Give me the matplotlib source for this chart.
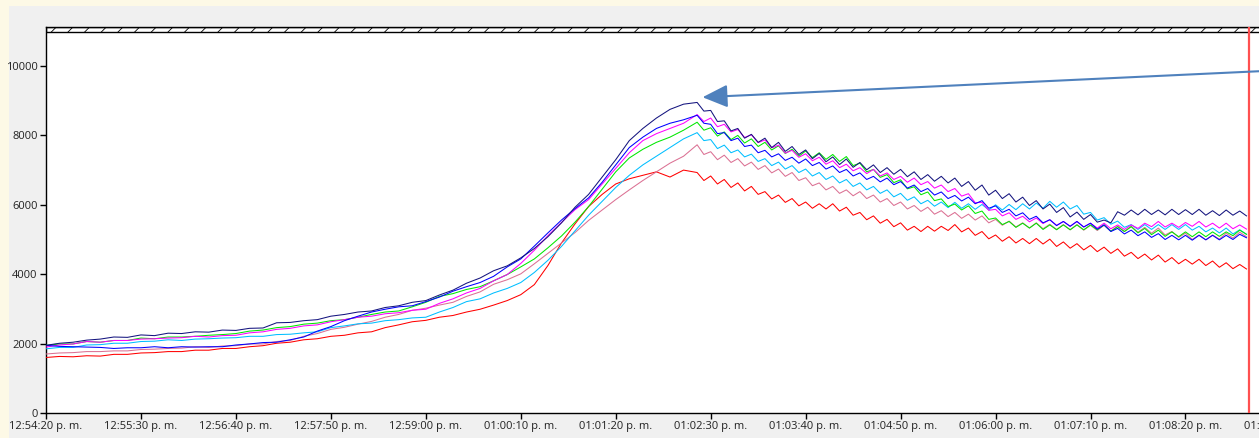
import numpy as np
import matplotlib
matplotlib.use("Agg")
import matplotlib.pyplot as plt
from matplotlib.patches import Rectangle

# ---------------- data ----------------
# sample times (s after 12:54:20): 10 s steps during the rise, 5 s steps afterwards
times = list(range(0, 480, 10)) + list(range(480, 890, 5))
tick_seconds = [0, 70, 140, 210, 280, 350, 420, 490, 560, 630, 700, 770, 840, 910]
tick_labels = ["12:54:20 p. m.", "12:55:30 p. m.", "12:56:40 p. m.", "12:57:50 p. m.",
               "12:59:00 p. m.", "01:00:10 p. m.", "01:01:20 p. m.", "01:02:30 p. m.",
               "01:03:40 p. m.", "01:04:50 p. m.", "01:06:00 p. m.", "01:07:10 p. m.",
               "01:08:20 p. m.", "01:09:30 p. m."]
y_ticks = [0, 2000, 4000, 6000, 8000, 10000]

navy = [1950, 2010, 2040, 2100, 2130, 2190, 2180, 2250, 2230, 2300,
        2290, 2340, 2330, 2390, 2380, 2440, 2450, 2600, 2610, 2660,
        2690, 2790, 2840, 2910, 2940, 3040, 3090, 3190, 3240, 3400,
        3540, 3740, 3890, 4100, 4240, 4470, 4740, 5080, 5480, 5930,
        6300, 6800, 7300, 7850, 8200, 8500, 8750, 8900,
        8950, 8700, 8720, 8400, 8420, 8130, 8200, 7920, 8030, 7800,
        7920, 7650, 7800, 7540, 7680, 7450, 7580, 7330, 7480, 7240,
        7380, 7160, 7320, 7080, 7220, 7010, 7150, 6930, 7070, 6880,
        7020, 6810, 6950, 6730, 6870, 6680, 6820, 6630, 6770, 6530,
        6670, 6420, 6570, 6280, 6420, 6180, 6320, 6080, 6220, 5980,
        6120, 5880, 6020, 5780, 5920, 5650, 5790, 5580, 5720, 5500,
        5560, 5480, 5800, 5700, 5850, 5710, 5870, 5720, 5850, 5710,
        5870, 5720, 5860, 5720, 5870, 5700, 5830, 5690, 5850, 5700,
        5820, 5680]
blue = [1950, 1920, 1910, 1900, 1890, 1860, 1880, 1880, 1910, 1880,
        1910, 1900, 1910, 1910, 1960, 1990, 2030, 2040, 2110, 2190,
        2360, 2490, 2660, 2790, 2910, 2990, 3060, 3090, 3210, 3340,
        3510, 3640, 3760, 3940, 4210, 4440, 4810, 5190, 5560, 5890,
        6200, 6650, 7150, 7650, 7950, 8200, 8350, 8450,
        8580, 8350, 8320, 8050, 8080, 7850, 7920, 7680, 7720, 7500,
        7570, 7380, 7470, 7280, 7370, 7200, 7320, 7130, 7220, 7030,
        7120, 6930, 7020, 6830, 6920, 6730, 6820, 6660, 6770, 6580,
        6670, 6480, 6570, 6380, 6470, 6280, 6370, 6180, 6270, 6110,
        6220, 6030, 6120, 5900, 5970, 5780, 5870, 5680, 5770, 5580,
        5670, 5480, 5570, 5400, 5520, 5380, 5520, 5360, 5470, 5300,
        5420, 5230, 5320, 5160, 5270, 5110, 5220, 5060, 5170, 5000,
        5120, 4990, 5120, 4980, 5120, 4990, 5120, 4990, 5120, 5000,
        5150, 5050]
magenta = [1900, 1960, 1990, 2060, 2040, 2090, 2090, 2130, 2140, 2160,
           2170, 2210, 2190, 2230, 2240, 2310, 2340, 2410, 2440, 2510,
           2540, 2630, 2690, 2760, 2790, 2860, 2890, 2960, 2990, 3160,
           3290, 3460, 3590, 3810, 3990, 4310, 4690, 5110, 5490, 5860,
           6150, 6600, 7050, 7500, 7850, 8050, 8200, 8350,
           8600, 8400, 8500, 8250, 8320, 8100, 8170, 7940, 8020, 7790,
           7870, 7640, 7720, 7490, 7570, 7370, 7470, 7270, 7370, 7170,
           7270, 7070, 7170, 6980, 7070, 6900, 7020, 6830, 6920, 6730,
           6820, 6650, 6770, 6580, 6670, 6480, 6570, 6380, 6470, 6250,
           6320, 6060, 6070, 5840, 5870, 5680, 5770, 5580, 5670, 5510,
           5620, 5460, 5570, 5410, 5520, 5380, 5520, 5360, 5470, 5330,
           5470, 5310, 5420, 5290, 5420, 5320, 5470, 5370, 5520, 5360,
           5470, 5350, 5490, 5380, 5520, 5360, 5470, 5330, 5470, 5310,
           5420, 5300]
green = [1950, 1990, 1990, 2060, 2040, 2090, 2090, 2160, 2140, 2190,
         2190, 2210, 2240, 2260, 2290, 2360, 2390, 2460, 2490, 2560,
         2590, 2660, 2690, 2760, 2840, 2910, 2940, 3060, 3190, 3360,
         3440, 3560, 3640, 3810, 3990, 4210, 4440, 4760, 5100, 5500,
         5950, 6450, 6950, 7350, 7600, 7800, 7950, 8150,
         8380, 8150, 8220, 7980, 8100, 7880, 8000, 7780, 7900, 7680,
         7800, 7580, 7700, 7480, 7600, 7400, 7550, 7360, 7500, 7310,
         7450, 7250, 7390, 7130, 7200, 6950, 7020, 6790, 6870, 6640,
         6720, 6460, 6520, 6290, 6370, 6120, 6170, 5950, 6020, 5850,
         5970, 5750, 5820, 5580, 5620, 5430, 5520, 5350, 5470, 5330,
         5470, 5290, 5420, 5280, 5420, 5280, 5420, 5280, 5420, 5280,
         5420, 5240, 5370, 5230, 5370, 5190, 5320, 5140, 5270, 5090,
         5220, 5080, 5220, 5080, 5220, 5080, 5220, 5090, 5220, 5110,
         5270, 5150]
cyan = [1850, 1890, 1890, 1960, 1970, 2010, 2010, 2060, 2070, 2110,
        2090, 2130, 2140, 2160, 2170, 2210, 2210, 2260, 2270, 2310,
        2340, 2460, 2510, 2570, 2590, 2660, 2690, 2740, 2760, 2910,
        3040, 3210, 3290, 3460, 3590, 3760, 4050, 4400, 4800, 5250,
        5700, 6100, 6500, 6850, 7150, 7400, 7650, 7900,
        8080, 7850, 7880, 7620, 7720, 7500, 7580, 7380, 7460, 7250,
        7330, 7130, 7230, 7030, 7130, 6930, 7030, 6830, 6930, 6730,
        6830, 6630, 6730, 6530, 6630, 6430, 6530, 6330, 6430, 6230,
        6330, 6130, 6230, 6030, 6130, 5960, 6080, 5920, 6070, 5900,
        6030, 5870, 6010, 5850, 6000, 5850, 6010, 5860, 6030, 5880,
        6050, 5900, 6100, 5930, 6080, 5880, 5980, 5730, 5780, 5560,
        5630, 5440, 5530, 5350, 5430, 5290, 5430, 5290, 5430, 5290,
        5430, 5290, 5430, 5270, 5380, 5220, 5330, 5190, 5330, 5160,
        5280, 5150]
pink = [1700, 1730, 1740, 1770, 1770, 1790, 1790, 1830, 1840, 1860,
        1870, 1910, 1890, 1930, 1940, 1990, 1990, 2060, 2090, 2210,
        2290, 2410, 2470, 2560, 2640, 2760, 2840, 2960, 3020, 3110,
        3190, 3360, 3490, 3710, 3840, 4010, 4300, 4600, 4900, 5200,
        5550, 5850, 6150, 6430, 6700, 6950, 7200, 7400,
        7730, 7450, 7530, 7300, 7430, 7220, 7330, 7120, 7230, 7020,
        7130, 6920, 7030, 6820, 6930, 6700, 6780, 6550, 6630, 6430,
        6530, 6330, 6430, 6260, 6380, 6180, 6280, 6080, 6180, 5980,
        6080, 5880, 5980, 5810, 5930, 5730, 5830, 5660, 5780, 5610,
        5730, 5560, 5680, 5480, 5580, 5410, 5530, 5360, 5480, 5330,
        5480, 5310, 5440, 5290, 5430, 5280, 5430, 5270, 5410, 5260,
        5410, 5240, 5380, 5230, 5380, 5210, 5350, 5180, 5330, 5130,
        5230, 5060, 5180, 5000, 5130, 4990, 5130, 5010, 5180, 5040,
        5210, 5080]
red = [1600, 1630, 1620, 1650, 1640, 1690, 1690, 1730, 1740, 1770,
       1770, 1810, 1810, 1860, 1860, 1910, 1940, 2010, 2040, 2110,
       2140, 2210, 2240, 2310, 2340, 2460, 2540, 2630, 2670, 2760,
       2810, 2910, 2990, 3110, 3240, 3410, 3700, 4250, 4900, 5450,
       5950, 6300, 6600, 6750, 6850, 6950, 6800, 7000,
       6930, 6700, 6830, 6600, 6730, 6500, 6630, 6400, 6530, 6300,
       6380, 6170, 6280, 6070, 6180, 5970, 6080, 5900, 6030, 5880,
       6030, 5820, 5930, 5700, 5780, 5570, 5680, 5470, 5580, 5370,
       5480, 5270, 5380, 5230, 5380, 5240, 5380, 5260, 5430, 5220,
       5330, 5120, 5230, 5020, 5130, 4950, 5080, 4900, 5030, 4880,
       5030, 4870, 5010, 4800, 4930, 4750, 4880, 4700, 4830, 4650,
       4780, 4600, 4730, 4520, 4630, 4450, 4580, 4410, 4550, 4350,
       4480, 4300, 4430, 4290, 4430, 4250, 4380, 4200, 4330, 4160,
       4280, 4150]

series = [
    (red, "#FF0000"),
    (pink, "#DB7093"),
    (cyan, "#00BFFF"),
    (green, "#00E800"),
    (magenta, "#FF00FF"),
    (blue, "#0000FF"),
    (navy, "#14147F"),
]

marker_time = 887          # red cursor line (s)
arrow_tip = (484, 9100)    # arrow head position (s, value)

# ---------------- figure ----------------
W, H = 1259, 438
fig = plt.figure(figsize=(W / 100, H / 100), dpi=100, facecolor="#FDF9E6")
panel = Rectangle((9 / W, 0), 1, (H - 6) / H, transform=fig.transFigure,
                  facecolor="#F0F0F0", edgecolor="none", zorder=-10)
fig.add_artist(panel)

px_per_s = 1.3565
x_right_px = 46 + 920 * px_per_s
ax = fig.add_axes([46 / W, 25 / H, (x_right_px - 46) / W, (413 - 27) / H])
ax.set_zorder(1)
ax.set_facecolor("white")

val_per_px = 10000 / 347.0
ytop = (413 - 27) * val_per_px
yband = (413 - 32) * val_per_px
ax.set_xlim(0, 920)
ax.set_ylim(0, ytop)

plt.rcParams["hatch.linewidth"] = 0.6
ax.axhspan(yband, ytop, facecolor="white", edgecolor="black", hatch="//", lw=1.0, zorder=1)

for vals, col in series:
    ax.plot(times, vals, color=col, lw=0.75, zorder=3)

ax.axvline(marker_time, color="#FF5050", lw=1.6, zorder=4)

ax.annotate("", xy=arrow_tip, xycoords="data", xytext=(W + 5, H - 71), textcoords="figure pixels",
            arrowprops=dict(arrowstyle="-|>,head_length=1.1,head_width=0.5", color="#4F81BD",
                            lw=1.5, mutation_scale=14, shrinkA=0, shrinkB=0),
            annotation_clip=False, zorder=5)

for s in ["left", "bottom", "top"]:
    ax.spines[s].set_color("black")
    ax.spines[s].set_linewidth(1.0)
ax.spines["right"].set_visible(False)

ax.set_yticks(y_ticks)
ax.set_yticklabels([str(v) for v in y_ticks])
ax.set_xticks(tick_seconds)
ax.set_xticklabels(tick_labels)
ax.tick_params(axis="both", direction="out", length=4, width=1, colors="black",
               labelsize=8, labelcolor="#222222", pad=2)
for lab in ax.get_xticklabels() + ax.get_yticklabels():
    lab.set_fontfamily(["Open Sans", "DejaVu Sans"])

fig.savefig("out.png", dpi=100, facecolor=fig.get_facecolor())
